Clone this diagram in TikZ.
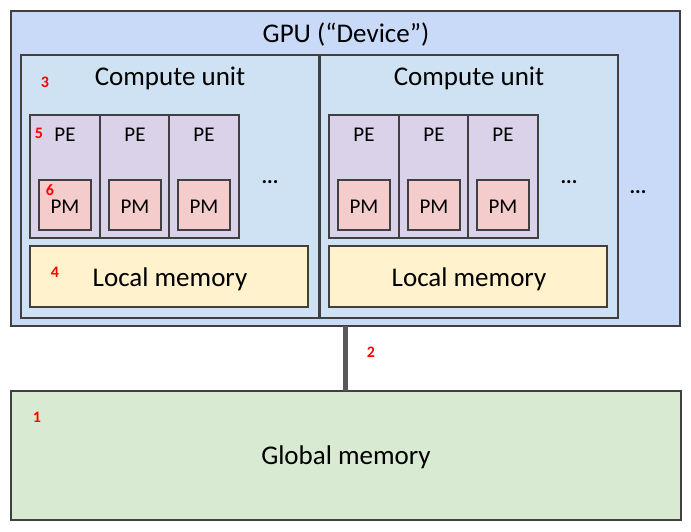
\documentclass[tikz,border=0pt]{standalone}
\usepackage{fontspec}
\setmainfont{Carlito}
\begin{document}
\begin{tikzpicture}[x=1pt,y=-1pt,
  box/.style={draw=black!75,line width=1.4pt,anchor=north west,inner sep=0pt,outer sep=0pt},
  big/.style={font=\fontsize{27}{32}\selectfont,inner sep=0pt},
  small/.style={font=\fontsize{21}{25}\selectfont,inner sep=0pt},
  num/.style={font=\fontsize{16}{19}\selectfont\bfseries,text=red,inner sep=0pt},
  dots/.style={font=\fontsize{21}{25}\selectfont\bfseries,inner sep=0pt}]
\definecolor{gpuc}{HTML}{C9DAF8}
\definecolor{cuc}{HTML}{CFE2F3}
\definecolor{pec}{HTML}{D9D2E9}
\definecolor{pmc}{HTML}{F4CCCC}
\definecolor{lmc}{HTML}{FFF2CC}
\definecolor{gmc}{HTML}{D9EAD3}
\definecolor{linec}{HTML}{595959}
\useasboundingbox (0,0) rectangle (691,531);
% GPU
\node[box,fill=gpuc,minimum width=669pt,minimum height=315pt] (gpu) at (11,11) {};
\node[big] (gputxt) at (346,34) {GPU (“Device”)};
% Global memory
\node[box,fill=gmc,minimum width=670pt,minimum height=129pt] (gm) at (11,391) {};
\node[big] (gmtxt) at (346,457) {Global memory};
% connector
\draw[linec,line width=4.2pt] (gpu.south) -- (gpu.south |- gm.north) coordinate (cend);
% compute units
\foreach \i/\ox in {1/0,2/299}{
  \node[box,fill=cuc,minimum width=298pt,minimum height=263pt] (cu\i) at (21+\ox,55) {};
  \node[big] (cut\i) at (170+\ox,78) {Compute unit};
  \foreach \j/\px in {1/0,2/70,3/139}{
    \node[box,fill=pec,minimum width=70pt,minimum height=123pt] (pe\i\j) at (30+\ox+\px,115) {};
    \node[small] (pet\i\j) at (65+\ox+\px,135) {PE};
    \node[box,fill=pmc,minimum width=52pt,minimum height=50pt] (pm\i\j) at (39+\ox+\px,180) {};
    \node[small] (pmt\i\j) at (65+\ox+\px,206.5) {PM};
  }
  \node[dots] (dt\i) at (270+\ox,182) {...};
  \node[box,fill=lmc,minimum width=278pt,minimum height=61pt] (lm\i) at (30+\ox,246) {};
  \node[big] (lmt\i) at (170+\ox,279) {Local memory};
}
\node[dots] (dtout) at (638,192) {...};
% red numbers
\node[num] (n1) at (37,417) {1};
\node[num] (n2) at (371,352) {2};
\node[num] (n3) at (45,82) {3};
\node[num] (n4) at (55,272) {4};
\node[num] (n5) at (39,133) {5};
\node[num] (n6) at (50,190.5) {6};
\end{tikzpicture}
\end{document}
